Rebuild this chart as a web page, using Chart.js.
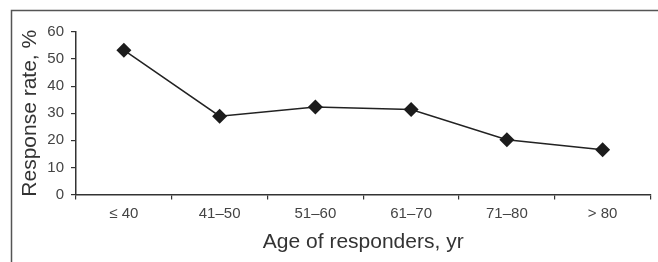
<!DOCTYPE html>
<html>
<head>
<meta charset="utf-8">
<script src="https://cdn.jsdelivr.net/npm/chart.js@4"></script>
<style>
  html, body { margin: 0; padding: 0; background: #fff; }
  #wrap { width: 658px; height: 262px; }
</style>
</head>
<body>
<div id="wrap"><canvas id="chart" width="658" height="262"></canvas></div>
<script>
const ageGroups = ['\u2264 40', '41\u201350', '51\u201360', '61\u201370', '71\u201380', '> 80'];
const responseRate = [53.3, 28.9, 32.3, 31.4, 20.2, 16.5];
const yMin = 0;
const yMax = 60;
const yStep = 10;

// box frame round the figure (left and top edges only are visible)
const framePlugin = {
    id: 'frame',
    beforeDraw(chart) {
        const ctx = chart.ctx;
        ctx.save();
        ctx.strokeStyle = '#555';
        ctx.lineWidth = 1.5;
        ctx.beginPath();
        ctx.moveTo(11.5, 262);
        ctx.lineTo(11.5, 10.5);
        ctx.lineTo(658, 10.5);
        ctx.stroke();
        ctx.restore();
    }
};

const font = 'Liberation Sans, Arial, Helvetica, sans-serif';

new Chart(document.getElementById('chart'), {
    type: 'line',
    data: {
        labels: ageGroups,
        datasets: [{
            data: responseRate,
            borderColor: '#222',
            borderWidth: 1.5,
            tension: 0,
            pointStyle: 'rectRot',
            pointRadius: 7.5,
            pointBackgroundColor: '#1c1c1c',
            pointBorderWidth: 0
        }]
    },
    options: {
        responsive: false,
        animation: false,
        layout: { padding: { left: 0, right: 5, top: 32, bottom: 0 } },
        plugins: {
            legend: { display: false },
            tooltip: { enabled: false }
        },
        scales: {
            x: {
                offset: true,
                grid: { offset: true, drawOnChartArea: false, tickLength: 5, color: '#333', lineWidth: 1.2 },
                border: { color: '#333', width: 1.5 },
                ticks: { color: '#444', padding: 5, font: { family: font, size: 15 } },
                title: {
                    display: true,
                    text: 'Age of responders, yr',
                    color: '#333',
                    font: { family: font, size: 21 },
                    padding: { top: 0, bottom: 7 }
                },
                afterFit(scale) { scale.height = 67.5; }
            },
            y: {
                min: yMin,
                max: yMax,
                grid: { drawOnChartArea: false, tickLength: 5, color: '#333', lineWidth: 1.2 },
                border: { color: '#333', width: 1.5 },
                ticks: { stepSize: yStep, color: '#444', padding: 7, font: { family: font, size: 15 } },
                title: {
                    display: true,
                    text: 'Response rate, %',
                    color: '#333',
                    font: { family: font, size: 21 },
                    padding: { top: 18, bottom: 0 }
                },
                afterFit(scale) { scale.width = 76; }
            }
        }
    },
    plugins: [framePlugin]
});
</script>
</body>
</html>
